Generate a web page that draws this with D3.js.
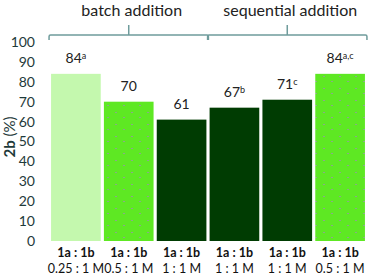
<!DOCTYPE html>
<html>
<head>
<meta charset="utf-8">
<script src="https://cdn.jsdelivr.net/npm/d3@7"></script>
<style>
  body { margin: 0; background: #fff; }
  svg { display: block; font-family: Lato, "Open Sans", sans-serif; }
</style>
</head>
<body>
<div id="chart"></div>
<script>
// data
const ratios = ['0.25 : 1 M', '0.5 : 1 M', '1 : 1 M', '1 : 1 M', '1 : 1 M', '0.5 : 1 M'];
const values = [84, 70, 61, 67, 71, 84];
const notes = ['a', '', '', 'b', 'c', 'a,c'];
const groups = ['batch addition', 'sequential addition'];
const groupBars = [[0, 2], [3, 5]];
const yTicks = [0, 10, 20, 30, 40, 50, 60, 70, 80, 90, 100];

const barColor = ['#c4f8ae', '#5ee823', '#003c02', '#003c02', '#003c02', '#5ee823'];
const textColor = '#1e3a3a';

const width = 370, height = 275;
const margin = {top: 42, right: 5, bottom: 34, left: 50};

const svg = d3.select('#chart').append('svg')
    .attr('width', width)
    .attr('height', height);

const idx = d3.range(values.length);

let x = d3.scaleBand()
    .domain(idx)
    .range([margin.left, width - margin.right + 1])
    .paddingInner(0.06)
    .paddingOuter(0.02);

let y = d3.scaleLinear()
    .domain([0, 100])
    .range([height - margin.bottom, margin.top]);

// y tick labels
svg.selectAll('.yTick')
    .data(yTicks)
    .enter().append('text')
    .attr('class', 'yTick')
    .attr('x', 35)
    .attr('y', d => y(d))
    .attr('dy', '0.35em')
    .style('text-anchor', 'end')
    .style('font-size', '14px')
    .style('fill', textColor)
    .text(d => d);

// y axis title
let yTitle = svg.append('text')
    .attr('transform', 'translate(15,' + 137 + ') rotate(-90)')
    .style('text-anchor', 'middle')
    .style('font-size', '15px')
    .style('fill', textColor);
yTitle.append('tspan').style('font-weight', 'bold').text('2b');
yTitle.append('tspan').text(' (%)');

// pattern for the bright green bars (faint specks)
let defs = svg.append('defs');
let pat = defs.append('pattern')
    .attr('id', 'specks')
    .attr('width', 16).attr('height', 12)
    .attr('patternUnits', 'userSpaceOnUse');
pat.append('rect').attr('width', 16).attr('height', 12).attr('fill', '#5ee823');
pat.append('rect').attr('x', 3).attr('y', 4).attr('width', 2).attr('height', 1).attr('fill', '#8aa88a');
pat.append('rect').attr('x', 11).attr('y', 9).attr('width', 2).attr('height', 1).attr('fill', '#8aa88a');

// bars
svg.selectAll('.bar')
    .data(idx)
    .enter().append('rect')
    .attr('class', 'bar')
    .attr('x', i => x(i))
    .attr('y', i => y(values[i]))
    .attr('width', x.bandwidth())
    .attr('height', i => y(0) - y(values[i]))
    .attr('fill', i => barColor[i] === '#5ee823' ? 'url(#specks)' : barColor[i]);

// value labels
let labels = svg.selectAll('.valLabel')
    .data(idx)
    .enter().append('text')
    .attr('class', 'valLabel')
    .attr('x', i => x(i) + x.bandwidth() / 2)
    .attr('y', i => y(values[i]) - 11)
    .style('text-anchor', 'middle')
    .style('font-size', '14px')
    .style('fill', '#222');
labels.append('tspan').text(i => values[i]);
labels.append('tspan')
    .attr('dy', '-0.45em')
    .style('font-size', '9px')
    .text(i => notes[i]);

// x labels
let xl = svg.selectAll('.xLabel')
    .data(idx)
    .enter().append('g')
    .attr('transform', i => 'translate(' + (x(i) + x.bandwidth() / 2) + ',0)');
xl.append('text')
    .attr('y', 257)
    .style('text-anchor', 'middle')
    .style('font-size', '12.5px')
    .style('font-weight', 'bold')
    .style('fill', '#111')
    .text('1a : 1b');
xl.append('text')
    .attr('y', 273)
    .style('text-anchor', 'middle')
    .style('font-size', '12.5px')
    .style('fill', '#111')
    .text(i => ratios[i]);

// group brackets
const bracketY = 35;
groups.forEach(function (g, k) {
    let x0 = x(groupBars[k][0]) - 2;
    let x1 = x(groupBars[k][1]) + x.bandwidth() + 2;
    let xm = (x0 + x1) / 2;
    svg.append('path')
        .attr('d', 'M' + x0 + ',' + (bracketY + 5) + ' L' + x0 + ',' + (bracketY + 1.5)
            + ' Q' + x0 + ',' + bracketY + ' ' + (x0 + 1.5) + ',' + bracketY
            + ' L' + (x1 - 1.5) + ',' + bracketY
            + ' Q' + x1 + ',' + bracketY + ' ' + x1 + ',' + (bracketY + 1.5)
            + ' L' + x1 + ',' + (bracketY + 5)
            + ' M' + xm + ',' + bracketY + ' L' + xm + ',' + (bracketY - 10))
        .attr('fill', 'none')
        .attr('stroke', '#6f9c9c')
        .attr('stroke-width', 1.5);
    svg.append('text')
        .attr('x', xm + 3)
        .attr('y', 16)
        .style('text-anchor', 'middle')
        .style('font-size', '16px')
        .style('fill', '#222')
        .text(g);
});
</script>
</body>
</html>
